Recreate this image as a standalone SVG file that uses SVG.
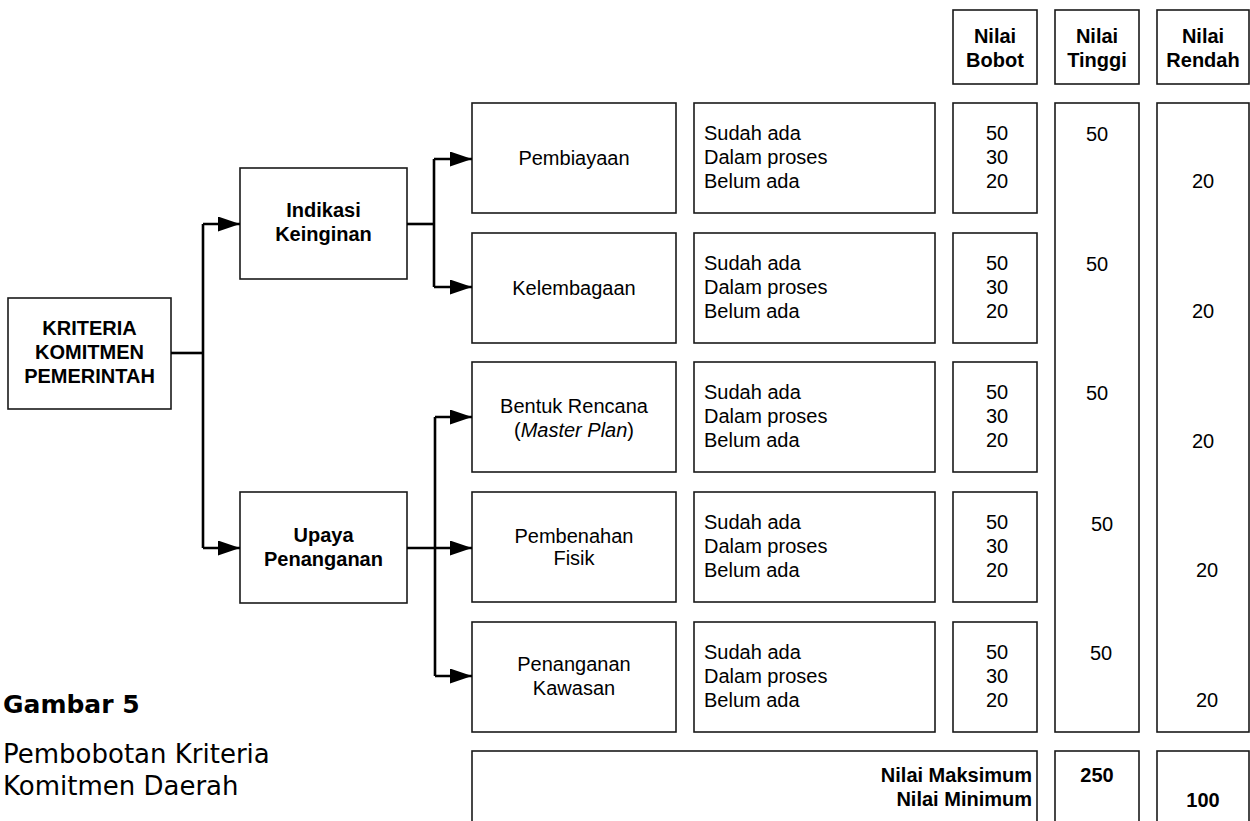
<svg xmlns="http://www.w3.org/2000/svg" width="1250" height="821" viewBox="0 0 1250 821">
  <style>
    .box { fill: #ffffff; stroke: #1a1a1a; stroke-width: 1.6; }
    .t { font-family: "Liberation Sans", Arial, sans-serif; font-size: 20px; fill: #000; }
    .c { text-anchor: middle; }
    .b { font-weight: bold; }
    .e { text-anchor: end; }
    .wire { fill: none; stroke: #000; stroke-width: 2.6; }
    .cap { font-family: "DejaVu Sans", Verdana, sans-serif; fill: #000; }
  </style>
  <defs>
    <marker id="arrow" markerUnits="userSpaceOnUse" markerWidth="22" markerHeight="15" refX="22" refY="7.5" orient="auto">
      <path d="M0,0 L22,7.5 L0,15 Z" fill="#000"/>
    </marker>
  </defs>
  <rect width="1250" height="821" fill="#ffffff"/>

  <!-- column headers -->
  <g id="head-bobot">
    <rect class="box" x="953" y="10" width="84" height="74"/>
    <text class="t c b" x="995" y="43">Nilai</text>
    <text class="t c b" x="995" y="67">Bobot</text>
  </g>
  <g id="head-tinggi">
    <rect class="box" x="1055" y="10" width="84" height="74"/>
    <text class="t c b" x="1097" y="43">Nilai</text>
    <text class="t c b" x="1097" y="67">Tinggi</text>
  </g>
  <g id="head-rendah">
    <rect class="box" x="1157" y="10" width="92" height="74"/>
    <text class="t c b" x="1203" y="43">Nilai</text>
    <text class="t c b" x="1203" y="67">Rendah</text>
  </g>

  <!-- tree nodes -->
  <g id="kriteria">
    <rect class="box" x="8" y="298" width="163" height="111"/>
    <text class="t c b" x="89.5" y="335">KRITERIA</text>
    <text class="t c b" x="89.5" y="359">KOMITMEN</text>
    <text class="t c b" x="89.5" y="383">PEMERINTAH</text>
  </g>
  <g id="indikasi">
    <rect class="box" x="240" y="168" width="167" height="111"/>
    <text class="t c b" x="323.5" y="217">Indikasi</text>
    <text class="t c b" x="323.5" y="241">Keinginan</text>
  </g>
  <g id="upaya">
    <rect class="box" x="240" y="492" width="167" height="111"/>
    <text class="t c b" x="323.5" y="542">Upaya</text>
    <text class="t c b" x="323.5" y="566">Penanganan</text>
  </g>

  <g id="pembiayaan">
    <rect class="box" x="472" y="103" width="204" height="110"/>
    <text class="t c" x="574" y="165">Pembiayaan</text>
  </g>
  <g id="kelembagaan">
    <rect class="box" x="472" y="233" width="204" height="110"/>
    <text class="t c" x="574" y="295">Kelembagaan</text>
  </g>
  <g id="bentuk-rencana">
    <rect class="box" x="472" y="362" width="204" height="110"/>
    <text class="t c" x="574" y="413">Bentuk Rencana</text>
    <text class="t c" x="574" y="437">(<tspan font-style="italic">Master Plan</tspan>)</text>
  </g>
  <g id="pembenahan-fisik">
    <rect class="box" x="472" y="492" width="204" height="110"/>
    <text class="t c" x="574" y="543">Pembenahan</text>
    <text class="t c" x="574" y="565">Fisik</text>
  </g>
  <g id="penanganan-kawasan">
    <rect class="box" x="472" y="622" width="204" height="110"/>
    <text class="t c" x="574" y="671">Penanganan</text>
    <text class="t c" x="574" y="695">Kawasan</text>
  </g>

  <!-- status lists -->
  <g id="status-1">
    <rect class="box" x="694" y="103" width="241" height="110"/>
    <text class="t" x="704" y="140">Sudah ada</text>
    <text class="t" x="704" y="164">Dalam proses</text>
    <text class="t" x="704" y="188">Belum ada</text>
  </g>
  <g id="status-2">
    <rect class="box" x="694" y="233" width="241" height="110"/>
    <text class="t" x="704" y="270">Sudah ada</text>
    <text class="t" x="704" y="294">Dalam proses</text>
    <text class="t" x="704" y="318">Belum ada</text>
  </g>
  <g id="status-3">
    <rect class="box" x="694" y="362" width="241" height="110"/>
    <text class="t" x="704" y="399">Sudah ada</text>
    <text class="t" x="704" y="423">Dalam proses</text>
    <text class="t" x="704" y="447">Belum ada</text>
  </g>
  <g id="status-4">
    <rect class="box" x="694" y="492" width="241" height="110"/>
    <text class="t" x="704" y="529">Sudah ada</text>
    <text class="t" x="704" y="553">Dalam proses</text>
    <text class="t" x="704" y="577">Belum ada</text>
  </g>
  <g id="status-5">
    <rect class="box" x="694" y="622" width="241" height="110"/>
    <text class="t" x="704" y="659">Sudah ada</text>
    <text class="t" x="704" y="683">Dalam proses</text>
    <text class="t" x="704" y="707">Belum ada</text>
  </g>

  <!-- weights -->
  <g id="bobot-1">
    <rect class="box" x="953" y="103" width="84" height="110"/>
    <text class="t c" x="997" y="140">50</text>
    <text class="t c" x="997" y="164">30</text>
    <text class="t c" x="997" y="188">20</text>
  </g>
  <g id="bobot-2">
    <rect class="box" x="953" y="233" width="84" height="110"/>
    <text class="t c" x="997" y="270">50</text>
    <text class="t c" x="997" y="294">30</text>
    <text class="t c" x="997" y="318">20</text>
  </g>
  <g id="bobot-3">
    <rect class="box" x="953" y="362" width="84" height="110"/>
    <text class="t c" x="997" y="399">50</text>
    <text class="t c" x="997" y="423">30</text>
    <text class="t c" x="997" y="447">20</text>
  </g>
  <g id="bobot-4">
    <rect class="box" x="953" y="492" width="84" height="110"/>
    <text class="t c" x="997" y="529">50</text>
    <text class="t c" x="997" y="553">30</text>
    <text class="t c" x="997" y="577">20</text>
  </g>
  <g id="bobot-5">
    <rect class="box" x="953" y="622" width="84" height="110"/>
    <text class="t c" x="997" y="659">50</text>
    <text class="t c" x="997" y="683">30</text>
    <text class="t c" x="997" y="707">20</text>
  </g>

  <!-- high / low columns -->
  <g id="tinggi">
    <rect class="box" x="1055" y="103" width="84" height="629"/>
    <text class="t c" x="1097" y="141">50</text>
    <text class="t c" x="1097" y="271">50</text>
    <text class="t c" x="1097" y="400">50</text>
    <text class="t c" x="1102" y="531">50</text>
    <text class="t c" x="1101" y="660">50</text>
  </g>
  <g id="rendah">
    <rect class="box" x="1157" y="103" width="92" height="629"/>
    <text class="t c" x="1203" y="188">20</text>
    <text class="t c" x="1203" y="318">20</text>
    <text class="t c" x="1203" y="448">20</text>
    <text class="t c" x="1207" y="577">20</text>
    <text class="t c" x="1207" y="707">20</text>
  </g>

  <!-- totals -->
  <g id="total-label">
    <rect class="box" x="472" y="751" width="565" height="90"/>
    <text class="t b e" x="1032" y="782">Nilai Maksimum</text>
    <text class="t b e" x="1032" y="806">Nilai Minimum</text>
  </g>
  <g id="total-tinggi">
    <rect class="box" x="1055" y="751" width="84" height="90"/>
    <text class="t c b" x="1097" y="782">250</text>
  </g>
  <g id="total-rendah">
    <rect class="box" x="1157" y="751" width="92" height="90"/>
    <text class="t c b" x="1203" y="807">100</text>
  </g>

  <!-- connectors -->
  <g id="connectors">
    <path class="wire" d="M171,353 H203"/>
    <path class="wire" d="M203,224 V548"/>
    <path class="wire" d="M203,224 H240" marker-end="url(#arrow)"/>
    <path class="wire" d="M203,548 H240" marker-end="url(#arrow)"/>
    <path class="wire" d="M407,224 H434"/>
    <path class="wire" d="M434,159 V287"/>
    <path class="wire" d="M434,159 H472" marker-end="url(#arrow)"/>
    <path class="wire" d="M434,287 H472" marker-end="url(#arrow)"/>
    <path class="wire" d="M435,417 V676"/>
    <path class="wire" d="M435,417 H472" marker-end="url(#arrow)"/>
    <path class="wire" d="M407,548 H472" marker-end="url(#arrow)"/>
    <path class="wire" d="M435,676 H472" marker-end="url(#arrow)"/>
  </g>

  <!-- caption -->
  <g id="caption">
    <text class="cap" x="3" y="713" font-size="25" font-weight="bold">Gambar 5</text>
    <text class="cap" x="3" y="763" font-size="26">Pembobotan Kriteria</text>
    <text class="cap" x="3" y="795" font-size="26">Komitmen Daerah</text>
  </g>
</svg>
